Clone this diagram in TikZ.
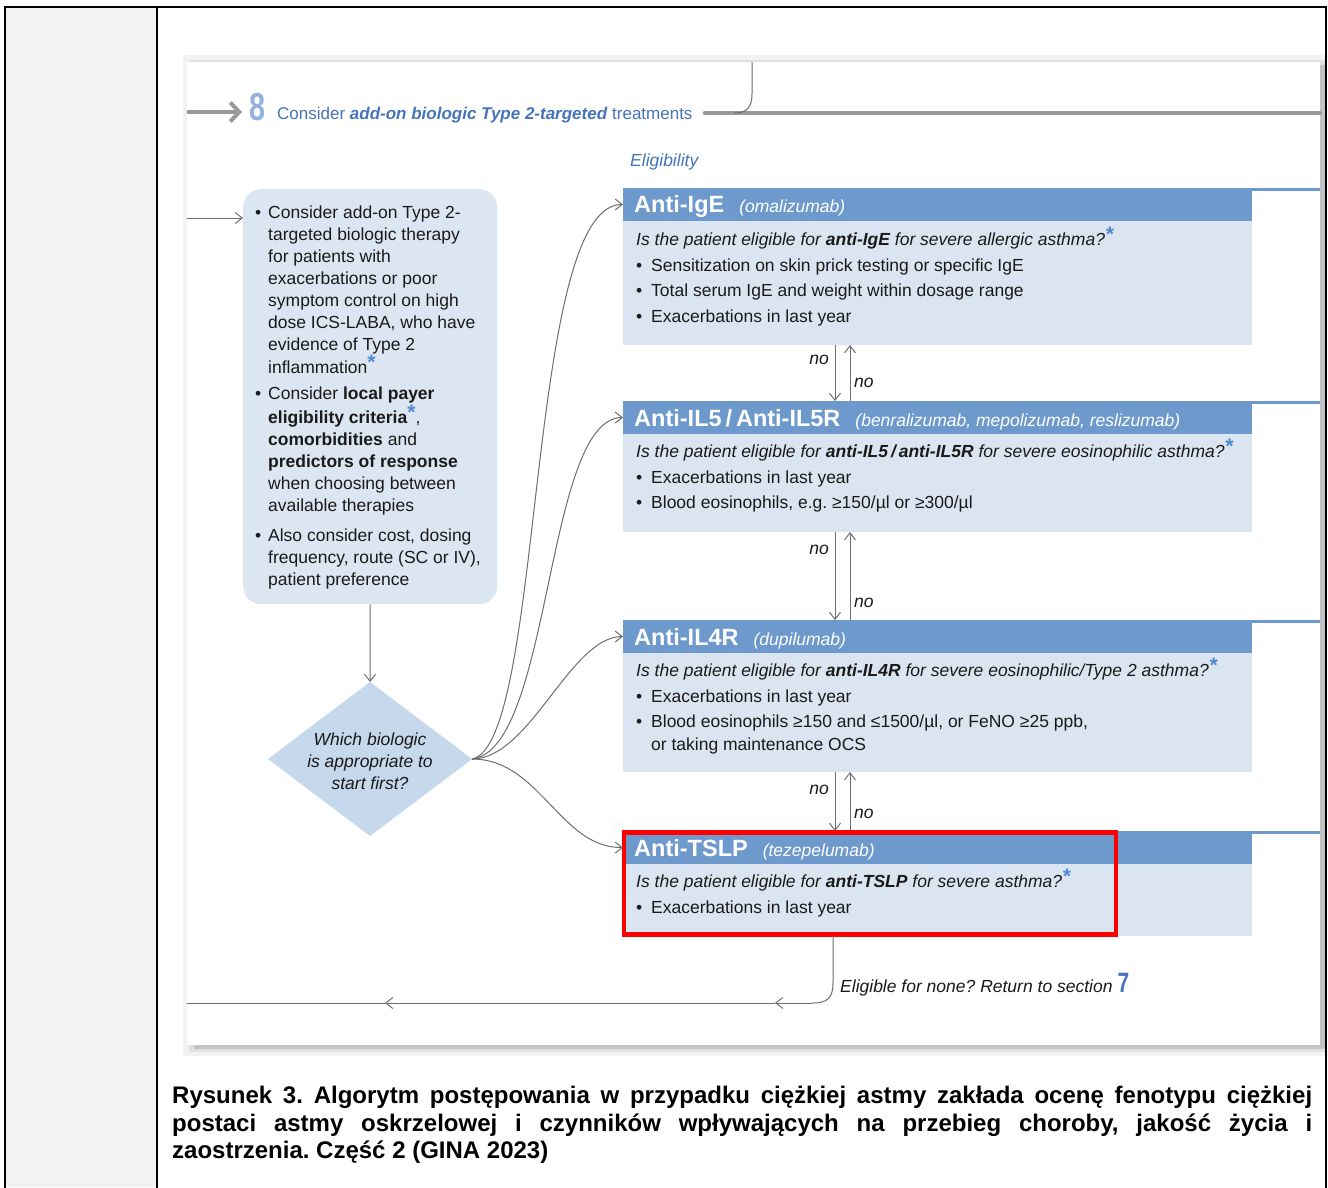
\documentclass[tikz,border=0pt]{standalone}
\usepackage{fontspec}
\setmainfont{Liberation Sans}
\usepackage{graphicx}
\usetikzlibrary{arrows.meta,shapes.geometric}
\definecolor{hdrblue}{HTML}{6E99CC}
\definecolor{bodyblue}{HTML}{DAE5F1}
\definecolor{lbblue}{HTML}{DCE6F2}
\definecolor{diablue}{HTML}{C6D8EC}
\definecolor{txtblue}{HTML}{4674BA}
\definecolor{eightblue}{HTML}{93B3DE}
\definecolor{astblue}{HTML}{4F88D1}
\definecolor{linegray}{HTML}{999999}
\definecolor{conngray}{HTML}{6E6E6E}
\definecolor{leftgray}{HTML}{F2F2F2}
\definecolor{textdark}{HTML}{1A1A1A}
\newcommand{\fbody}{\fontsize{17.5}{22}\selectfont}
\newcommand{\fbig}{\fontsize{23.5}{26}\selectfont\bfseries}
\newcommand{\bluestar}{\raisebox{4pt}{\textcolor{astblue}{\fontsize{21}{21}\selectfont\bfseries *}}}
\newcommand{\lbul}{\makebox[13pt][l]{\textbullet}}
\newcommand{\bbul}{\makebox[15pt][l]{\textbullet}}
\newcommand{\lind}{\hspace*{13pt}}
\frenchspacing
\begin{document}
\begin{tikzpicture}[x=1pt,y=-1pt,
  conn/.style={draw=conngray, line width=1pt},
  arr/.style={conn, -{Straight Barb[length=7pt,width=11pt]}},
  hdrbox/.style={fill=hdrblue, anchor=north west, minimum width=629pt, minimum height=33pt, inner sep=0pt, outer sep=0pt},
  bodybox/.style={fill=bodyblue, anchor=north west, minimum width=629pt, inner sep=0pt, outer sep=0pt},
  txt/.style={anchor=base west, inner sep=0pt, font=\fbody, text=textdark},
  title/.style={anchor=base west, inner sep=0pt, font=\fbig, text=white},
  nolbl/.style={inner sep=0pt, font=\fbody\itshape, text=textdark},
  lbtext/.style={anchor=base west, align=left, inner sep=0pt, font=\fbody, text=textdark}
]
\useasboundingbox (0,0) rectangle (1328,1187);
\fill[white] (0,0) rectangle (1328,1187);
\fill[leftgray] (5,7) rectangle (157,1187);
% panel shadow
\fill[black!5] (183,55) rectangle (1325,1056);
\fill[black!12] (189,60) rectangle (1325,1052);
\fill[black!24] (194,65) rectangle (1325,1049);
\fill[white] (187,62) rectangle (1320,1045);
% frame
\draw[line width=2pt] (5,1190) -- (5,7) -- (1326,7) -- (1326,1190);
\draw[line width=2pt] (157,7) -- (157,1190);

% header
\coordinate (hs) at (187,112);
\node[anchor=base west, inner sep=0pt, text=eightblue, font=\fontsize{39}{40}\selectfont\bfseries] (eight) at (249,120) {\scalebox{0.74}[1]{8}};
\draw[linegray, line width=4pt, -{Straight Barb[length=9pt,width=19pt]}] (hs) -- ([xshift=-7pt]eight.west |- hs);
\node[anchor=base west, inner sep=0pt, text=txtblue, font=\fontsize{17}{20}\selectfont] (sec) at (277,119) {Consider \textbf{\textit{add-on biologic Type 2-targeted}} treatments};
\coordinate (hlB) at (1320,113);
\draw[linegray, line width=4pt, line cap=round] ([xshift=12pt]sec.east |- hlB) -- (hlB);
\coordinate (tcA) at (752,62);
\draw[conn] (tcA) -- (752,94) .. controls (752,108) and (746,113) .. (734,113);

\node[anchor=base west, inner sep=0pt, text=txtblue, font=\fbody\itshape] (elig) at (630,166) {Eligibility};

% Box 1
\node[hdrbox] (h1) at (623,188) {};
\node[bodybox, minimum height=124pt] (b1) at (623,221) {};
\fill[hdrblue] (h1.north east) rectangle (1320,191);
\node[title] (t1) at (634,212.5) {Anti-IgE\hspace{15pt}{\fbody\mdseries\itshape (omalizumab)}};
\node[txt] (q1) at (636,245) {\itshape Is the patient eligible for \textbf{anti-IgE} for severe allergic asthma?\bluestar};
\node[txt] (p1a) at (636,271) {\bbul Sensitization on skin prick testing or specific IgE};
\node[txt] (p1b) at (636,296) {\bbul Total serum IgE and weight within dosage range};
\node[txt] (p1c) at (636,322) {\bbul Exacerbations in last year};

% Box 2
\node[hdrbox] (h2) at (623,401) {};
\node[bodybox, minimum height=98pt] (b2) at (623,434) {};
\fill[hdrblue] (h2.north east) rectangle (1320,404);
\node[title] (t2) at (634,426.5) {Anti-IL5\,/\,Anti-IL5R\hspace{15pt}{\fbody\mdseries\itshape (benralizumab, mepolizumab, reslizumab)}};
\node[txt] (q2) at (636,457) {\itshape Is the patient eligible for \textbf{anti-IL5\,/\,anti-IL5R} for severe eosinophilic asthma?\bluestar};
\node[txt] (p2a) at (636,483) {\bbul Exacerbations in last year};
\node[txt] (p2b) at (636,508) {\bbul Blood eosinophils, e.g. ≥150/µl or ≥300/µl};

% Box 3
\node[hdrbox] (h3) at (623,620) {};
\node[bodybox, minimum height=119pt] (b3) at (623,653) {};
\fill[hdrblue] (h3.north east) rectangle (1320,623);
\node[title] (t3) at (634,645.5) {Anti-IL4R\hspace{15pt}{\fbody\mdseries\itshape (dupilumab)}};
\node[txt] (q3) at (636,676) {\itshape Is the patient eligible for \textbf{anti-IL4R} for severe eosinophilic/Type 2 asthma?\bluestar};
\node[txt] (p3a) at (636,702) {\bbul Exacerbations in last year};
\node[txt] (p3b) at (636,727) {\bbul Blood eosinophils ≥150 and ≤1500/µl, or FeNO ≥25 ppb,};
\node[txt] (p3c) at (651,750) {or taking maintenance OCS};

% Box 4
\node[hdrbox] (h4) at (623,831) {};
\node[bodybox, minimum height=72pt] (b4) at (623,864) {};
\fill[hdrblue] (h4.north east) rectangle (1320,834);
\node[title] (t4) at (634,856.5) {Anti-TSLP\hspace{15pt}{\fbody\mdseries\itshape (tezepelumab)}};
\node[txt] (q4) at (636,887) {\itshape Is the patient eligible for \textbf{anti-TSLP} for severe asthma?\bluestar};
\node[txt] (p4a) at (636,913) {\bbul Exacerbations in last year};

% no arrows
\coordinate (dn) at (835,0);
\coordinate (up) at (850,0);
\draw[arr] (b1.south -| dn) -- (h2.north -| dn);
\draw[arr] (h2.north -| up) -- (b1.south -| up);
\draw[arr] (b2.south -| dn) -- (h3.north -| dn);
\draw[arr] (h3.north -| up) -- (b2.south -| up);
\draw[arr] (b3.south -| dn) -- (h4.north -| dn);
\draw[arr] (h4.north -| up) -- (b3.south -| up);
\node[nolbl, anchor=base east] (n1a) at (829,364) {no};
\node[nolbl, anchor=base west] (n1b) at (854,387) {no};
\node[nolbl, anchor=base east] (n2a) at (829,554) {no};
\node[nolbl, anchor=base west] (n2b) at (854,607) {no};
\node[nolbl, anchor=base east] (n3a) at (829,794) {no};
\node[nolbl, anchor=base west] (n3b) at (854,818) {no};

% red highlight
\node[draw=red, line width=4.5pt, anchor=north west, minimum width=492pt, minimum height=102pt, inner sep=0pt] (redbox) at (621.5,830) {};

% left box
\node[fill=lbblue, rounded corners=18pt, anchor=north west, minimum width=254pt, minimum height=415pt, inner sep=0pt] (lb) at (243,189) {};
\node[lbtext] (lbt1) at (255,585) {\lbul Consider add-on Type 2-\\\lind targeted biologic therapy\\\lind for patients with\\\lind exacerbations or poor\\\lind symptom control on high\\\lind dose ICS-LABA, who have\\\lind evidence of Type 2\\\lind inflammation\bluestar\\[4pt]%
\lbul Consider \textbf{local payer}\\\lind \textbf{eligibility criteria}\bluestar,\\\lind \textbf{comorbidities} and\\\lind \textbf{predictors of response}\\\lind when choosing between\\\lind available therapies\\[8pt]%
\lbul Also consider cost, dosing\\\lind frequency, route (SC or IV),\\\lind patient preference};
\coordinate (inL) at (187,218);
\draw[arr] (inL) -- (inL -| lb.west);

% diamond
\node[diamond, fill=diablue, minimum width=204pt, minimum height=154pt, inner sep=0pt, outer sep=0pt] (dia) at (370,759) {};
\node[align=center, inner sep=0pt, font=\fbody\itshape, text=textdark] (dq) at (370,761) {Which biologic\\is appropriate to\\start first?};
\draw[arr] (lb.south) -- (dia.north);

% curves
\draw[arr] (dia.east) .. controls (545,745) and (525,204) .. (h1.west);
\draw[arr] (dia.east) .. controls (552,750) and (545,418) .. (h2.west);
\draw[arr] (dia.east) .. controls (530,759) and (570,637) .. (h3.west);
\draw[arr] (dia.east) .. controls (540,759) and (560,848) .. (h4.west);

% bottom return
\coordinate (rc) at (833,0);
\coordinate (rk) at (812,1003);
\coordinate (r1) at (775,1003);
\coordinate (r2) at (385,1003);
\coordinate (rend) at (187,1003);
\draw[conn] (b4.south -| rc) -- (833,982) .. controls (833,998) and (828,1003) .. (rk);
\draw[arr] (rk) -- (r1);
\draw[arr] (r1) -- (r2);
\draw[conn] (r2) -- (rend);
\node[nolbl, anchor=base west] (none) at (840,992) {Eligible for none? Return to section\hspace{5pt}{\color{txtblue}\upshape\bfseries\fontsize{28}{28}\selectfont\scalebox{0.75}[1]{7}}};

% caption
\node[anchor=north west, inner sep=0pt, text width=1140pt, align=justify, font=\bfseries\fontsize{24}{27.6}\selectfont] (cap) at (172,1086) {Rysunek 3. Algorytm postępowania w przypadku ciężkiej astmy zakłada ocenę fenotypu ciężkiej\linebreak postaci astmy oskrzelowej i czynników wpływających na przebieg choroby, jakość życia i\linebreak zaostrzenia. Część 2 (GINA 2023)};
\end{tikzpicture}
\end{document}
